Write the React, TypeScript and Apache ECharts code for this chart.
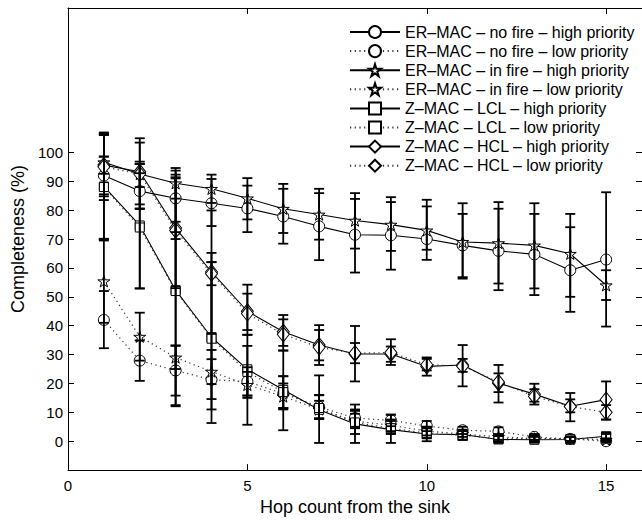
import React, { useEffect, useRef } from "react";
import * as echarts from "echarts";

const hops = [1, 2, 3, 4, 5, 6, 7, 8, 9, 10, 11, 12, 13, 14, 15];

const erNoFireHigh = [92.0, 86.6, 84.1, 82.4, 80.6, 77.8, 74.4, 71.5, 71.3, 70.0, 67.8, 65.9, 64.7, 59.2, 62.9];
const erNoFireHighLo = [85.5, 80.4, 72.4, 74.5, 72.4, 68.4, 62.7, 58.4, 59.4, 62.8, 56.8, 52.3, 50.6, 44.8, 39.7];
const erNoFireHighHi = [98.5, 92.8, 93.7, 90.8, 88.5, 87.4, 85.9, 83.9, 82.8, 81.3, 78.7, 80.5, 78.7, 74.1, 86.2];

const erNoFireLow = [42.0, 27.9, 24.5, 21.3, 20.7, 16.5, 11.9, 8.0, 7.2, 5.3, 3.8, 3.4, 1.5, 0.8, 0.0];
const erNoFireLowLo = [32.2, 20.9, 15.8, 14.6, 15.8, 11.5, 7.7, 5.0, 5.2, 3.5, 2.5, 2.0, 0.5, 0.0, -0.5];
const erNoFireLowHi = [52.0, 34.9, 33.2, 31.6, 25.6, 22.5, 15.9, 11.0, 9.2, 7.0, 5.0, 4.8, 2.5, 1.6, 0.5];

const erInFireHigh = [96.6, 92.5, 89.3, 87.4, 84.1, 80.5, 78.5, 76.4, 75.0, 73.0, 69.0, 68.6, 67.8, 64.9, 54.0];
const erInFireHighLo = [84.8, 80.6, 84.0, 82.5, 76.8, 72.1, 69.8, 66.7, 65.9, 66.3, 56.3, 54.6, 52.9, 50.0, 48.9];
const erInFireHighHi = [106.9, 103.4, 94.6, 92.3, 91.1, 89.1, 87.4, 85.9, 84.5, 83.6, 82.4, 82.8, 82.4, 78.7, 59.2];

const erInFireLow = [55.4, 36.2, 29.0, 24.1, 19.5, 15.5, 11.0, 7.0, 5.5, 3.5, 2.5, 1.5, 1.0, 0.8, 0.5];
const erInFireLowLo = [41.0, 27.9, 25.0, 19.8, 15.0, 11.0, 8.0, 4.5, 3.5, 2.0, 1.5, 0.5, 0.0, 0.0, 0.0];
const erInFireLowHi = [70.0, 44.5, 33.0, 28.4, 24.0, 20.0, 14.0, 9.5, 7.5, 5.0, 3.5, 2.5, 2.0, 1.6, 1.0];

const lclHigh = [88.2, 74.7, 52.3, 36.0, 24.9, 17.8, 10.9, 6.0, 4.0, 2.5, 2.3, 0.6, 0.5, 0.6, 1.7];
const lclHighLo = [70.1, 52.9, 12.1, 6.3, 5.7, 3.8, -0.6, -0.6, -0.6, 0.0, 0.5, -0.5, -0.3, -0.3, 0.5];
const lclHighHi = [106.3, 96.8, 92.3, 65.2, 36.9, 31.4, 22.8, 12.7, 9.2, 5.0, 4.0, 2.0, 1.5, 1.5, 3.0];

const lclLow = [88.0, 74.0, 52.0, 35.5, 24.0, 17.0, 11.5, 6.5, 4.5, 2.8, 2.0, 0.9, 0.9, 0.8, 1.4];
const lclLowLo = [69.5, 52.9, 12.5, 11.0, 15.8, 11.5, 7.7, 2.5, 2.5, 1.0, 0.5, 0.0, 0.0, 0.0, 0.3];
const lclLowHi = [106.5, 96.0, 91.0, 62.0, 33.0, 22.5, 16.0, 10.5, 7.0, 4.5, 3.5, 1.8, 1.8, 1.6, 2.5];

const hclHigh = [95.6, 93.3, 73.8, 58.6, 45.0, 37.9, 33.3, 30.2, 30.2, 25.9, 26.4, 20.1, 16.3, 12.1, 14.4];
const hclHighLo = [83.5, 82.0, 53.0, 37.3, 36.8, 31.4, 26.4, 20.7, 26.4, 22.7, 19.0, 13.4, 12.7, 6.9, 7.5];
const hclHighHi = [106.0, 104.9, 91.4, 79.9, 54.2, 43.7, 40.2, 39.9, 35.3, 29.0, 33.3, 26.4, 19.9, 16.7, 20.7];

const hclLow = [95.0, 92.5, 73.0, 58.0, 44.2, 37.0, 32.5, 30.5, 30.7, 26.5, 26.0, 20.5, 15.5, 12.0, 10.0];
const hclLowLo = [92.6, 88.0, 70.0, 54.0, 38.5, 33.0, 28.0, 27.0, 27.5, 24.5, 24.0, 17.0, 13.7, 10.0, 7.5];
const hclLowHi = [98.6, 96.0, 76.0, 62.0, 51.1, 42.2, 38.5, 34.0, 32.8, 28.5, 28.5, 23.5, 18.0, 14.5, 12.5];

const xTicks = [0, 5, 10, 15];
const yTicks = [0, 10, 20, 30, 40, 50, 60, 70, 80, 90, 100];

const STAR = "path://M50,0 L61.2,34.5 L97.6,34.5 L68.2,55.9 L79.4,90.5 L50,69.1 L20.6,90.5 L31.8,55.9 L2.4,34.5 L38.8,34.5 Z";
const FONT = "'Liberation Sans', Arial, Helvetica, sans-serif";

type Def = { name: string; v: number[]; lo: number[]; hi: number[]; symbol: string; size: any; dotted: boolean };

const defs: Def[] = [
  { name: "ER–MAC – no fire – high priority", v: erNoFireHigh, lo: erNoFireHighLo, hi: erNoFireHighHi, symbol: "circle", size: 11, dotted: false },
  { name: "ER–MAC – no fire – low priority", v: erNoFireLow, lo: erNoFireLowLo, hi: erNoFireLowHi, symbol: "circle", size: 11, dotted: true },
  { name: "ER–MAC – in fire – high priority", v: erInFireHigh, lo: erInFireHighLo, hi: erInFireHighHi, symbol: STAR, size: 12, dotted: false },
  { name: "ER–MAC – in fire – low priority", v: erInFireLow, lo: erInFireLowLo, hi: erInFireLowHi, symbol: STAR, size: 12, dotted: true },
  { name: "Z–MAC – LCL – high priority", v: lclHigh, lo: lclHighLo, hi: lclHighHi, symbol: "rect", size: 9, dotted: false },
  { name: "Z–MAC – LCL – low priority", v: lclLow, lo: lclLowLo, hi: lclLowHi, symbol: "rect", size: 9, dotted: true },
  { name: "Z–MAC – HCL – high priority", v: hclHigh, lo: hclHighLo, hi: hclHighHi, symbol: "diamond", size: [12, 15], dotted: false },
  { name: "Z–MAC – HCL – low priority", v: hclLow, lo: hclLowLo, hi: hclLowHi, symbol: "diamond", size: [12, 15], dotted: true },
];

export default function App() {
  const ref = useRef<HTMLDivElement>(null);
  useEffect(() => {
    if (!ref.current) return;
    const chart = echarts.init(ref.current, null, { renderer: "svg" });
    const lineSeries = defs.map((d) => ({
      type: "line",
      name: d.name,
      data: hops.map((h, i) => [h, d.v[i]]),
      symbol: d.symbol,
      symbolSize: d.size,
      symbolKeepAspect: true,
      showAllSymbol: true,
      lineStyle: d.dotted
        ? { color: "#333", width: 1.2, type: [1.2, 3.5] }
        : { color: "#000", width: 1.1, type: "solid" },
      itemStyle: { color: "#fff", borderColor: "#000", borderWidth: 1 },
      emphasis: { disabled: true },
      z: 2,
    }));
    const errSeries = defs.map((d) => ({
      type: "custom",
      name: d.name + " err",
      data: hops.map((h, i) => [h, d.lo[i], d.hi[i]]),
      encode: { x: 0, y: [1, 2] },
      z: 3,
      silent: true,
      renderItem: (params: any, api: any) => {
        const x = api.value(0);
        const pLo = api.coord([x, api.value(1)]);
        const pHi = api.coord([x, api.value(2)]);
        const w = 5;
        const style = { stroke: "#000", lineWidth: 1.8, fill: null };
        return {
          type: "group",
          children: [
            { type: "line", shape: { x1: pLo[0], y1: pLo[1], x2: pHi[0], y2: pHi[1] }, style },
            { type: "line", shape: { x1: pLo[0] - w, y1: pLo[1], x2: pLo[0] + w, y2: pLo[1] }, style },
            { type: "line", shape: { x1: pHi[0] - w, y1: pHi[1], x2: pHi[0] + w, y2: pHi[1] }, style },
          ],
        };
      },
    }));
    const axisLine = { show: true, onZero: false, lineStyle: { color: "#000", width: 1 } };
    chart.setOption({
      animation: false,
      textStyle: { fontFamily: FONT },
      grid: { left: 68, top: 8, width: 577, height: 466, containLabel: false },
      legend: {
        data: defs.map((d) => d.name),
        orient: "vertical",
        left: 349,
        top: 24,
        padding: 0,
        itemWidth: 50,
        itemHeight: 15,
        itemGap: 3.1,
        textStyle: { fontSize: 16, color: "#000", fontFamily: FONT },
        selectedMode: false,
      },
      xAxis: [
        {
          type: "value",
          position: "bottom",
          min: 0,
          max: 16,
          interval: 5,
          axisLine,
          axisTick: { show: true, inside: true, length: 6, customValues: xTicks, lineStyle: { color: "#000" } },
          axisLabel: { customValues: xTicks, color: "#000", fontSize: 15, margin: 8, fontFamily: FONT },
          splitLine: { show: false },
          name: "Hop count from the sink",
          nameLocation: "middle",
          nameGap: 24,
          nameTextStyle: { fontSize: 18, color: "#000", fontFamily: FONT },
        },
        {
          type: "value",
          position: "top",
          min: 0,
          max: 16,
          interval: 5,
          axisLine,
          axisTick: { show: true, inside: true, length: 6, customValues: xTicks, lineStyle: { color: "#000" } },
          axisLabel: { show: false },
          splitLine: { show: false },
        },
      ],
      yAxis: [
        {
          type: "value",
          position: "left",
          min: -10,
          max: 150,
          interval: 10,
          axisLine,
          axisTick: { show: true, inside: true, length: 6, customValues: yTicks, lineStyle: { color: "#000" } },
          axisLabel: { customValues: yTicks, color: "#000", fontSize: 15, margin: 5, fontFamily: FONT },
          splitLine: { show: false },
          name: "Completeness (%)",
          nameLocation: "middle",
          nameGap: 38,
          nameTextStyle: { fontSize: 18, color: "#000", fontFamily: FONT },
        },
        {
          type: "value",
          position: "right",
          min: -10,
          max: 150,
          interval: 10,
          axisLine,
          axisTick: { show: true, inside: true, length: 6, customValues: yTicks, lineStyle: { color: "#000" } },
          axisLabel: { show: false },
          splitLine: { show: false },
        },
      ],
      series: [...lineSeries, ...errSeries],
    });
    return () => chart.dispose();
  }, []);
  return <div ref={ref} style={{ width: 642, height: 521, position: "absolute", left: 0, top: 0, background: "#fff" }} />;
}
